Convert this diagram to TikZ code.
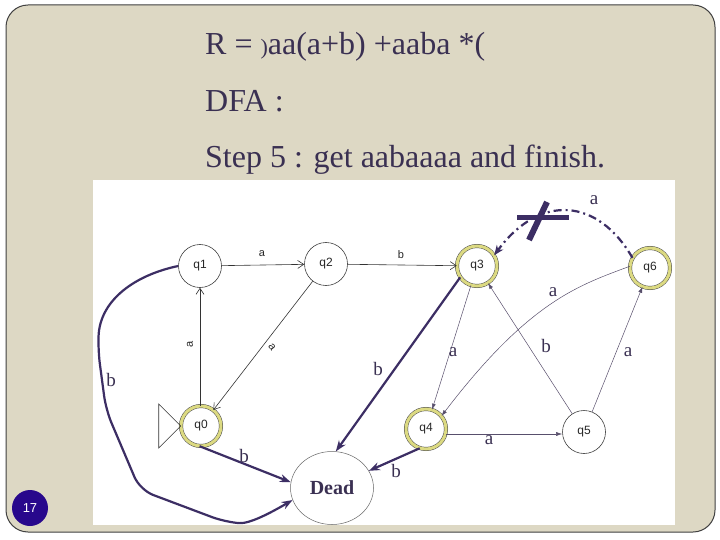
\documentclass[tikz,border=0pt]{standalone}
\usepackage{fontspec}
\setmainfont{Liberation Serif}
\setsansfont{Liberation Sans}
\usetikzlibrary{arrows.meta,shapes.geometric}
\definecolor{slidebg}{RGB}{221,216,196}
\definecolor{ink}{RGB}{58,48,82}
\definecolor{thickc}{RGB}{60,46,100}
\definecolor{ringc}{RGB}{220,218,130}
\definecolor{badge}{RGB}{40,8,140}
\tikzset{
  st/.style={circle, draw=black!75, fill=white, minimum size=43pt, inner sep=0pt, line width=0.6pt,
    font=\sffamily\fontsize{12}{12}\selectfont, text=black!85},
  acc/.style={st, minimum size=40pt, draw=black!70, line width=0.5pt, double=ringc, double distance=3pt},
  jedge/.style={draw=black!80, line width=0.6pt, -{Straight Barb[length=6pt,width=8pt]}},
  pedge/.style={draw=ink!85, line width=0.5pt, -{Latex[length=6pt,width=4pt]}},
  tedge/.style={draw=thickc, line width=2.2pt, -{Stealth[length=11pt,width=8pt]}},
  jlab/.style={font=\sffamily\fontsize{11}{11}\selectfont, text=black!85, inner sep=0pt},
  slab/.style={font=\fontsize{19}{19}\selectfont, text=ink, inner sep=0pt},
  title/.style={anchor=base west, font=\fontsize{32}{34}\selectfont, text=ink, inner sep=0pt}
}
\begin{document}
\begin{tikzpicture}[x=1pt,y=-1pt]
\useasboundingbox (0,0) rectangle (720,540);
\fill[white] (0,0) rectangle (720,540);
\draw[black!75, line width=1pt, fill=slidebg, rounded corners=22pt] (6,5) rectangle (715,532);
\fill[white] (93,180) rectangle (675,525);

% titles
\node[title] (t1) at (205,55) {R = {\fontsize{22}{22}\selectfont )}aa(a+b) +aaba *(};
\node[title] (t2) at (205,112) {DFA :};
\node[title] (t3) at (205,168) {Step 5 : get aabaaaa and finish.};

% states
\node[st] (q1) at (200,266) {q1};
\node[st] (q2) at (326,264) {q2};
\node[acc] (q3) at (477,266) {q3};
\node[acc] (q6) at (650,268) {q6};
\node[acc] (q0) at (201,426) {q0};
\node[acc] (q4) at (426,429) {q4};
\node[st] (q5) at (584,432) {q5};
\node[ellipse, draw=black!60, line width=0.5pt, minimum width=83pt, minimum height=73pt, inner sep=0pt,
  font=\bfseries\fontsize{20}{20}\selectfont, text=ink] (dead) at (332,488) {Dead};

% initial triangle
\draw[black!80, line width=0.6pt] (q0.west) -- ++(-22,-22) -- ++(0,44) -- cycle;

% JFLAP edges
\draw[jedge] (q1) -- (q2);
\draw[jedge] (q2) -- (q3);
\draw[jedge] (q0.north -| q1) -- (q1);
\draw[jedge] (q2) -- (q0);
\node[jlab] (l12) at (262,254) {a};
\node[jlab] (l23) at (401,255) {b};
\node[jlab, rotate=90] (l01) at (190,344) {a};
\node[jlab, rotate=-52] (l20) at (272,347) {a};

% thin added edges
\draw[pedge] (q3) -- (q4);
\draw[pedge] (q6.175) .. controls (580,285) and (530,300) .. (q4.40);
\draw[pedge] (q5) -- (q3);
\draw[pedge] (q5) -- (q6);
\draw[pedge] (q4.east |- 0,434) -- (q5.west |- 0,434);
\node[slab] (la34) at (453,352) {a};
\node[slab] (la64) at (553,292) {a};
\node[slab] (lb53) at (546,346) {b};
\node[slab] (la56) at (628,352) {a};
\node[slab] (la45) at (489,440) {a};

% thick edges to dead
\draw[tedge] (q3.214) -- (dead.84);
\draw[tedge] (q4.252) -- (dead.25);
\draw[tedge] (q0.266) -- (dead.172);
\draw[tedge, rounded corners=14pt] (q1.west) .. controls (135,275) and (100,300) .. (98,350)
   -- (106,410) -- (140,490) -- (225,522) .. controls (250,524) and (272,512) .. (dead.197);
\node[slab] (lb1) at (111,380) {b};
\node[slab] (lb3) at (378,369) {b};
\node[slab] (lb0) at (244,456) {b};
\node[slab] (lb4) at (396,471) {b};

% dash-dot crossed edge
\draw[draw=thickc, line width=2.2pt, dash pattern=on 8pt off 4pt on 2pt off 4pt,
  -{Stealth[length=10pt,width=8pt]}] (q6.150) .. controls (598,198) and (540,193) .. (q3.32);
\node[slab] (la63) at (594,200) {a};
\draw[thickc, line width=5pt] (517,218) -- (569,218);
\draw[thickc, line width=6pt] (529,240) -- (547,202);

% page badge
\node[circle, fill=badge, minimum size=36pt, inner sep=0pt, text=white,
  font=\sffamily\fontsize{13}{13}\selectfont] (pg) at (30,508) {17};
\end{tikzpicture}
\end{document}
